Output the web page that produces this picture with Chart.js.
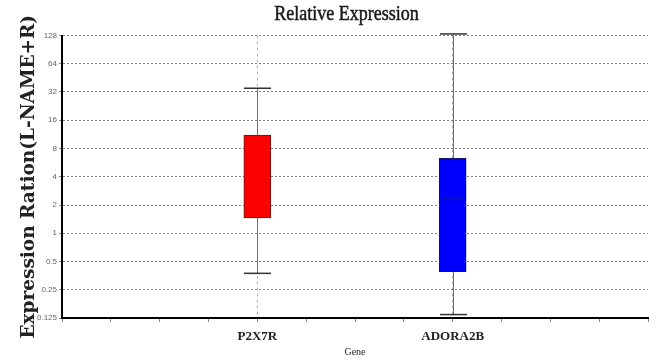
<!DOCTYPE html>
<html>
<head>
<meta charset="utf-8">
<script src="https://cdn.jsdelivr.net/npm/chart.js@4.4.1/dist/chart.umd.min.js"></script>
<style>
  html, body { margin: 0; padding: 0; background: #fff; }
  #wrap { width: 664px; height: 361px; position: relative; }
</style>
</head>
<body>
<div id="wrap"><canvas id="c" width="664" height="361"></canvas></div>
<script>
// Genes and their box-plot summaries (expression ratio, log2 axis)
const genes = ['P2X7R', 'ADORA2B'];
const whiskerLow  = [0.374, 0.136];
const boxLow      = [1.46, 0.39];
const medians     = [null, 2.32];
const boxHigh     = [11.1, 6.30];
const whiskerHigh = [35.1, 133];
const boxColors   = ['#ff0000', '#0000ff'];
const boxEdges    = ['#6a1414', '#14146a'];

// Log2 tick values for the y axis
const yTicks = [0.125, 0.25, 0.5, 1, 2, 4, 8, 16, 32, 64, 128];

// Genes sit on every fourth slot of a 12-slot x axis
const slotOf = i => (i + 1) * 4;
const slotLabel = v => {
  const i = genes.findIndex((g, k) => slotOf(k) === v);
  return i >= 0 ? genes[i] : '';
};

const BOX_W = 27;

// Whiskers and caps behind the boxes, medians on top of them
const boxPlotExtras = {
  id: 'boxPlotExtras',
  beforeDatasetsDraw(chart) {
    const { ctx, scales: { x, y } } = chart;
    ctx.save();
    genes.forEach((g, i) => {
      const px = Math.round(x.getPixelForValue(slotOf(i))) + 0.5;
      const yLo = y.getPixelForValue(whiskerLow[i]);
      const yHi = y.getPixelForValue(whiskerHigh[i]);
      ctx.strokeStyle = '#707070';
      ctx.lineWidth = 1;
      ctx.beginPath();
      ctx.moveTo(px, yLo);
      ctx.lineTo(px, yHi);
      ctx.stroke();
      ctx.strokeStyle = '#333';
      ctx.lineWidth = 1.5;
      [yLo, yHi].forEach(yy => {
        ctx.beginPath();
        ctx.moveTo(px - BOX_W / 2, yy);
        ctx.lineTo(px + BOX_W / 2, yy);
        ctx.stroke();
      });
    });
    ctx.restore();
  },
  afterDatasetsDraw(chart) {
    const { ctx, scales: { x, y } } = chart;
    ctx.save();
    genes.forEach((g, i) => {
      if (medians[i] == null) return;
      const px = x.getPixelForValue(slotOf(i));
      const py = y.getPixelForValue(medians[i]);
      ctx.strokeStyle = 'rgba(30,30,120,0.85)';
      ctx.lineWidth = 1;
      ctx.beginPath();
      ctx.moveTo(px - BOX_W / 2 + 3, py);
      ctx.lineTo(px + BOX_W / 2 - 3, py);
      ctx.stroke();
    });
    ctx.restore();
  },
  afterDraw(chart) {
    // Heading, slightly tall serif with a light outline for weight
    const { ctx } = chart;
    ctx.save();
    ctx.fillStyle = '#1a1a1a';
    ctx.strokeStyle = '#1a1a1a';
    ctx.lineWidth = 0.45;
    ctx.font = '18px "Liberation Serif", "Times New Roman", serif';
    ctx.textAlign = 'center';
    ctx.textBaseline = 'alphabetic';
    ctx.translate(346.5, 20);
    ctx.scale(1, 1.15);
    ctx.fillText('Relative Expression', 0, 0);
    ctx.strokeText('Relative Expression', 0, 0);
    ctx.restore();
  }
};

new Chart(document.getElementById('c'), {
  type: 'bar',
  data: {
    datasets: [{
      data: genes.map((g, i) => ({ x: slotOf(i), y: [boxLow[i], boxHigh[i]] })),
      backgroundColor: boxColors,
      borderColor: boxEdges,
      borderWidth: 1,
      borderSkipped: false,
      barThickness: BOX_W
    }]
  },
  options: {
    responsive: false,
    animation: false,
    events: [],
    layout: { padding: { left: 0, right: 16, top: 35.5, bottom: 0 } },
    plugins: {
      legend: { display: false },
      title: { display: false },
      tooltip: { enabled: false }
    },
    scales: {
      x: {
        type: 'linear',
        min: 0,
        max: 12,
        offset: false,
        afterFit: s => { s.height = 43; },
        ticks: {
          stepSize: 1,
          autoSkip: false,
          maxRotation: 0,
          padding: 7,
          color: '#222',
          font: { family: '"Liberation Serif", "Times New Roman", serif', size: 13, weight: 'bold' },
          callback: v => slotLabel(v)
        },
        grid: {
          offset: false,
          color: c => (c.tick && slotLabel(c.tick.value)) ? 'rgba(150,150,150,0.75)' : 'rgba(0,0,0,0)',
          tickColor: '#8a8a8a',
          tickLength: 4,
          lineWidth: 1
        },
        border: { color: '#000', width: 2, dash: [3, 3] },
        title: {
          display: true,
          text: 'Gene',
          color: '#222',
          font: { family: '"Liberation Serif", "Times New Roman", serif', size: 10, lineHeight: 1.2 },
          padding: { top: 0, bottom: 3 }
        }
      },
      y: {
        type: 'logarithmic',
        min: 0.125,
        max: 128,
        afterFit: s => { s.width = 62; },
        afterBuildTicks: s => { s.ticks = yTicks.map(v => ({ value: v })); },
        ticks: {
          autoSkip: false,
          padding: 2,
          color: '#666',
          font: { family: '"Liberation Sans", Arial, sans-serif', size: 8 },
          callback: v => String(v)
        },
        grid: {
          color: '#808080',
          tickColor: '#8a8a8a',
          tickLength: 3,
          lineWidth: 1
        },
        border: { color: '#000', width: 2, dash: [2, 2] },
        title: {
          display: true,
          text: 'Expression Ration(L-NAME+R)',
          color: '#222',
          font: { family: '"DejaVu Serif", serif', size: 18.5, weight: 'bold', lineHeight: 1 },
          padding: { top: 20, bottom: 0 }
        }
      }
    }
  },
  plugins: [boxPlotExtras]
});
</script>
</body>
</html>
